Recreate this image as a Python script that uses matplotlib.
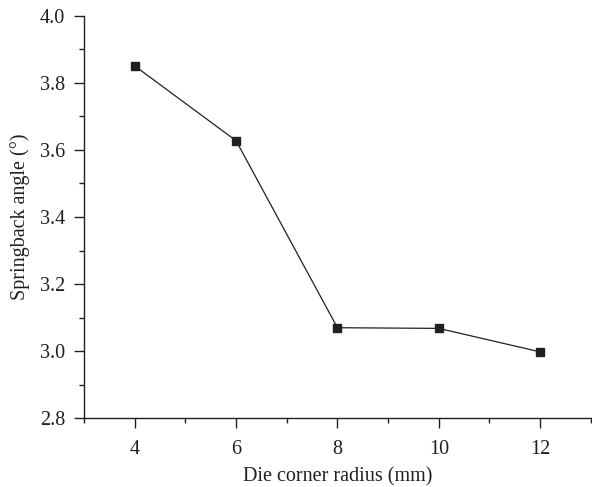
import matplotlib
matplotlib.use("Agg")
import matplotlib.pyplot as plt
from matplotlib.ticker import MultipleLocator

radius = [4, 6, 8, 10, 12]
springback = [3.85, 3.627, 3.070, 3.068, 2.998]
x_ticks = [4, 6, 8, 10, 12]
y_ticks = [2.8, 3.0, 3.2, 3.4, 3.6, 3.8, 4.0]

ink = "#231f20"
plt.rcParams["font.family"] = ["Liberation Serif", "DejaVu Serif"]
plt.rcParams["font.size"] = 14.5

fig = plt.figure(figsize=(5.92, 4.87), dpi=100)
ax = fig.add_axes([0.142, 0.141, 0.856, 0.827])

ax.plot(radius, springback, color=ink, lw=0.9, marker="s", ms=5.2,
        mfc=ink, mec=ink)

ax.set_xlim(3, 13)
ax.set_ylim(2.8, 4.0)
ax.set_xticks(x_ticks)
ax.set_yticks(y_ticks)
ax.set_yticklabels([f"{v:.1f}" for v in y_ticks])
ax.xaxis.set_minor_locator(MultipleLocator(1))
ax.yaxis.set_minor_locator(MultipleLocator(0.1))

for side in ("top", "right"):
    ax.spines[side].set_visible(False)
for side in ("left", "bottom"):
    ax.spines[side].set_color(ink)
    ax.spines[side].set_linewidth(1.0)

ax.tick_params(which="major", direction="out", length=7.2, width=1.0,
               color=ink, labelcolor=ink)
ax.tick_params(axis="y", which="major", pad=6.5)
ax.tick_params(axis="x", which="major", pad=8.5)
ax.tick_params(which="minor", direction="out", length=3.8, width=1.0,
               color=ink)

ax.set_xlabel("Die corner radius (mm)", color=ink, labelpad=6)
ax.set_ylabel("Springback angle (°)", color=ink, labelpad=7)

fig.savefig("out.png", dpi=100)
